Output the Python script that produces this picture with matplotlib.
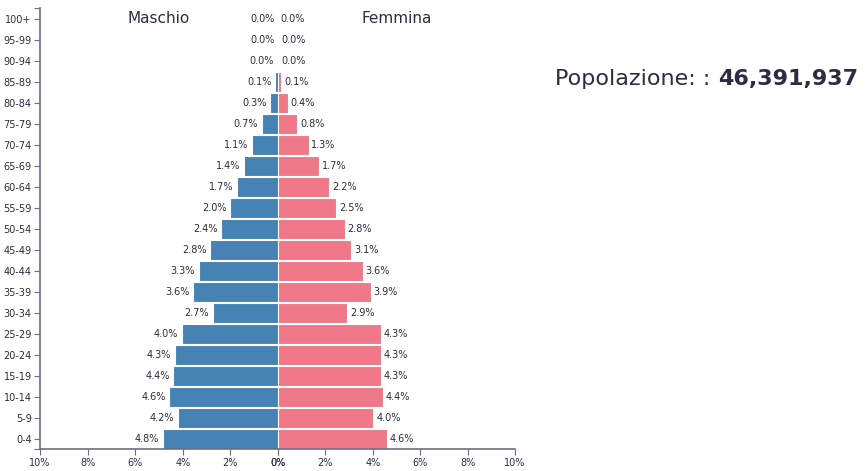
import matplotlib
matplotlib.use("Agg")
import matplotlib.pyplot as plt

# Dati della piramide (percentuali sul totale)
classi_eta = ["0-4", "5-9", "10-14", "15-19", "20-24", "25-29", "30-34", "35-39",
              "40-44", "45-49", "50-54", "55-59", "60-64", "65-69", "70-74", "75-79",
              "80-84", "85-89", "90-94", "95-99", "100+"]
maschi = [4.84, 4.22, 4.57, 4.41, 4.33, 4.04, 2.74, 3.58, 3.33, 2.84, 2.38, 2.01,
          1.74, 1.42, 1.10, 0.69, 0.32, 0.12, 0.02, 0.003, 0.0]
femmine = [4.59, 4.02, 4.42, 4.33, 4.34, 4.34, 2.92, 3.92, 3.58, 3.10, 2.82, 2.46,
           2.17, 1.73, 1.29, 0.81, 0.42, 0.14, 0.04, 0.01, 0.001]
popolazione = 46391937

blu = "#4682b4"
rosa = "#f07888"
testo = "#2b2d42"
asse = "#6b6f80"

fig = plt.figure(figsize=(8.66, 4.71), dpi=100)
ax_m = fig.add_axes([0.0462, 0.046, 0.2748, 0.936])
ax_f = fig.add_axes([0.3210, 0.046, 0.2737, 0.936])

y = list(range(len(classi_eta)))

# --- Maschi (lato sinistro) ---
ax_m.barh(y, maschi, height=0.94, color=blu, edgecolor="white", linewidth=0.8)
ax_m.set_xlim(10, 0)
ax_m.set_ylim(-0.5, len(classi_eta) - 0.5)
ax_m.set_yticks(y)
ax_m.set_yticklabels(classi_eta)
ax_m.set_yticks([-0.5, len(classi_eta) - 0.5], minor=True)
for i, v in enumerate(maschi):
    ax_m.text(v + 0.15, i, f"{v:.1f}%", ha="right", va="center", fontsize=7, color=testo)

# --- Femmine (lato destro) ---
ax_f.barh(y, femmine, height=0.94, color=rosa, edgecolor="white", linewidth=0.8)
ax_f.set_xlim(0, 10)
ax_f.set_ylim(-0.5, len(classi_eta) - 0.5)
ax_f.set_yticks([])
for i, v in enumerate(femmine):
    ax_f.text(v + 0.12, i, f"{v:.1f}%", ha="left", va="center", fontsize=7, color=testo)

tick_x = [0, 2, 4, 6, 8, 10]
for ax in (ax_m, ax_f):
    ax.set_xticks(tick_x)
    ax.set_xticklabels([f"{t}%" for t in tick_x])
    ax.spines["top"].set_visible(False)
    ax.spines["right"].set_visible(False)
    ax.spines["bottom"].set_color(asse)
    ax.spines["left"].set_color(asse)
    ax.spines["bottom"].set_linewidth(1.2)
    ax.spines["left"].set_linewidth(1.2)
    ax.tick_params(axis="both", which="both", labelsize=7, colors=testo, length=4, width=0.8, pad=2)
    ax.tick_params(axis="both", which="both", color=asse)
    ax.set_facecolor("none")
ax_f.spines["left"].set_visible(False)

ax_m.text(0.5, 0.995, "Maschio", transform=ax_m.transAxes, ha="center", va="top",
          fontsize=11, color=testo)
ax_f.text(0.5, 0.995, "Femmina", transform=ax_f.transAxes, ha="center", va="top",
          fontsize=11, color=testo)

# Totale popolazione: etichetta normale + numero in grassetto subito dopo
t1 = fig.text(0.641, 0.832, "Popolazione: :", fontsize=16, color=testo, va="center")
renderer = fig.canvas.get_renderer()
bb = t1.get_window_extent(renderer=renderer)
x2 = (bb.x1 + 8) / fig.bbox.width
fig.text(x2, 0.832, f"{popolazione:,}", fontsize=16, color=testo,
         fontweight="bold", va="center")

fig.savefig("out.png", dpi=100)
